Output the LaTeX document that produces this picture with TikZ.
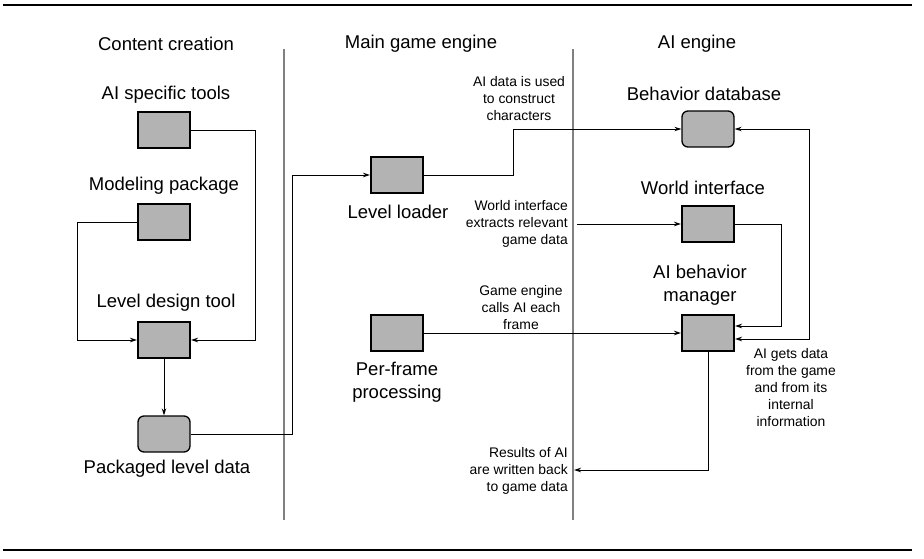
\documentclass[tikz,border=0pt]{standalone}
\usepackage{fontspec}
\setmainfont{Liberation Sans}
\usetikzlibrary{arrows.meta}
\definecolor{boxgray}{HTML}{B3B3B3}
\definecolor{divgray}{HTML}{808080}
\tikzset{
  sqbox/.style={draw, fill=boxgray, line width=2pt, minimum width=52pt, minimum height=36pt, inner sep=0pt},
  rdbox/.style={draw, fill=boxgray, line width=1.3pt, rounded corners=6pt, minimum width=52pt, minimum height=36pt, inner sep=0pt},
  big/.style={font=\fontsize{18.5}{22.5}\selectfont, align=center, inner sep=0pt},
  small/.style={font=\fontsize{13.9}{17}\selectfont, inner sep=0pt},
  conn/.style={line width=1pt},
  arr/.style={conn, -{Stealth[length=7pt,width=4.5pt]}},
  arrb/.style={conn, {Stealth[length=7pt,width=4.5pt]}-{Stealth[length=7pt,width=4.5pt]}},
  divider/.style={draw=divgray, line width=1.6pt},
  frame/.style={line width=1.5pt}
}
\begin{document}
\begin{tikzpicture}[x=1pt,y=-1pt]
\useasboundingbox (0,0) rectangle (924,558);
% frame lines
\coordinate (ftl) at (3,5); \coordinate (ftr) at (912,5);
\coordinate (fbl) at (3,550); \coordinate (fbr) at (912,550);
\draw[frame] (ftl) -- (ftr);
\draw[frame] (fbl) -- (fbr);
% dividers
\coordinate (d1t) at (284,49); \coordinate (d1b) at (284,520);
\coordinate (d2t) at (573,49); \coordinate (d2b) at (573,520);
\draw[divider] (d1t) -- (d1b);
\draw[divider] (d2t) -- (d2b);
% headers
\node[big] (h1) at (166,44) {Content creation};
\node[big] (h2) at (421,44) {Main game engine};
\node[big] (h3) at (697,44) {AI engine};
% content creation
\node[sqbox] (ait) at (164,130) {};
\node[big] (aitl) at (166,95) {AI specific tools};
\node[sqbox] (mod) at (164,222) {};
\node[big] (modl) at (164,186) {Modeling package};
\node[sqbox] (ldt) at (164,340) {};
\node[big] (ldtl) at (166,303) {Level design tool};
\node[rdbox] (pkg) at (164,434) {};
\node[big] (pkgl) at (167,469) {Packaged level data};
% main game engine
\node[sqbox] (ll) at (397,175) {};
\node[big] (lll) at (398,212) {Level loader};
\node[sqbox] (pf) at (397,333) {};
\node[big] (pfl) at (397,382) {Per-frame\\processing};
% AI engine
\node[rdbox] (bdb) at (708,129) {};
\node[big] (bdbl) at (704,94) {Behavior database};
\node[sqbox] (wi) at (708,224) {};
\node[big] (wil) at (703,188) {World interface};
\node[sqbox] (mgr) at (708,333) {};
\node[big] (mgrl) at (700,285) {AI behavior\\manager};
% small labels
\node[small, align=center] (t1) at (519,99) {AI data is used\\to construct\\characters};
\node[small, align=right, anchor=east] (t2) at (568,224) {World interface\\extracts relevant\\game data};
\node[small, align=center] (t3) at (521,308) {Game engine\\calls AI each\\frame};
\node[small, align=center] (t4) at (791,388) {AI gets data\\from the game\\and from its\\internal\\information};
\node[small, align=right, anchor=east] (t5) at (568,471) {Results of AI\\are written back\\to game data};
% connectors
\draw[arr] (ait.east) -- ++(64,0) |- (ldt.east);
\draw[arr] (mod.west) -- ++(-60,0) |- (ldt.west);
\draw[arr] (ldt.south) -- (pkg.north);
\draw[arr] (pkg.east) -- ++(102,0) |- (ll.west);
\draw[arr] (ll.east) -- ++(89,0) |- (bdb.west);
\coordinate (wis) at (577,224);
\draw[arr] (wis) -- (wi.west);
\draw[arr] (pf.east) -- (mgr.west);
\draw[arr] (wi.east) -- ++(46,0) |- ([yshift=7pt]mgr.east);
\draw[arrb] ([yshift=-6pt]mgr.east) -- ++(74,0) |- (bdb.east);
\coordinate (res) at (574,470);
\draw[arr] (mgr.south) |- (res);
\end{tikzpicture}
\end{document}
